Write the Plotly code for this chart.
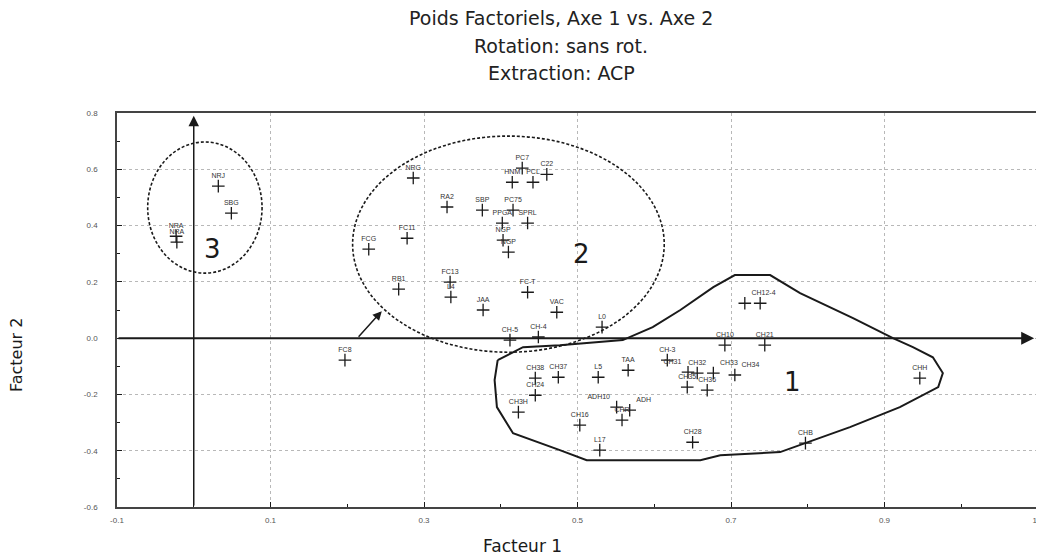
import plotly.graph_objects as go

# ---------------- data (factor loadings) ----------------
labels = ["NRJ", "SBG", "NRA", "NRA",
          "NRG", "RA2", "FC11", "FCG", "RB1", "FC13", "L4", "JAA", "FC-T", "VAC",
          "CH-5", "CH-4", "HNM", "PCL", "C22", "PC7", "SBP", "PC75", "PPGA", "SPRL",
          "NGP", "NGP",
          "L0", "CH10", "CH21", "CH12-4", "", "CH-3", "L5", "ADH10", "CHR", "CH16",
          "L17", "CH38", "CH37", "CH24", "CH3H", "CH31", "CH32", "CH33", "CH34",
          "CH35", "CH36", "CH28", "CHB", "CHH", "FC8", "TAA", "ADH"]
facteur1 = [0.032, 0.049, -0.023, -0.022,
            0.286, 0.330, 0.278, 0.228, 0.267, 0.334, 0.335, 0.377, 0.435, 0.473,
            0.412, 0.449, 0.415, 0.442, 0.460, 0.428, 0.376, 0.416, 0.402, 0.435,
            0.403, 0.410,
            0.532, 0.692, 0.744, 0.718, 0.738, 0.617, 0.527, 0.551, 0.558, 0.503,
            0.529, 0.445, 0.475, 0.445, 0.423, 0.644, 0.656, 0.677, 0.705,
            0.643, 0.669, 0.650, 0.797, 0.946, 0.197, 0.566, 0.568]
facteur2 = [0.540, 0.444, 0.362, 0.341,
            0.569, 0.466, 0.355, 0.316, 0.174, 0.199, 0.146, 0.100, 0.163, 0.092,
            -0.007, 0.004, 0.554, 0.554, 0.582, 0.604, 0.455, 0.455, 0.409, 0.409,
            0.348, 0.306,
            0.039, -0.025, -0.025, 0.124, 0.124, -0.078, -0.139, -0.245, -0.291, -0.309,
            -0.398, -0.142, -0.139, -0.203, -0.263, -0.121, -0.124, -0.124, -0.131,
            -0.174, -0.185, -0.370, -0.373, -0.142, -0.078, -0.114, -0.256]

# label placement for crowded spots
label_side = {"CH12-4": "top right", "ADH10": "top left", "ADH": "top right",
              "CH31": "top left", "CH33": "top right", "CH34": "top right"}

x_ticks = [-0.1, 0.1, 0.3, 0.5, 0.7, 0.9, 1.1]
y_ticks = [-0.6, -0.4, -0.2, 0.0, 0.2, 0.4, 0.6, 0.8]

# group outlines
ellipse3 = {"x0": -0.060, "x1": 0.089, "y0": 0.231, "y1": 0.697}
ellipse2 = {"x0": 0.207, "x1": 0.613, "y0": -0.050, "y1": 0.718}
group1_x = [0.396, 0.415, 0.429, 0.477, 0.559, 0.598, 0.634, 0.677, 0.705, 0.751,
            0.790, 0.859, 0.911, 0.937, 0.963, 0.976, 0.970, 0.920, 0.855, 0.764,
            0.686, 0.660, 0.512, 0.477, 0.416, 0.395, 0.392, 0.396]
group1_y = [-0.078, -0.050, -0.032, -0.025, -0.007, 0.039, 0.100, 0.181, 0.224, 0.224,
            0.160, 0.071, 0.0, -0.032, -0.068, -0.124, -0.174, -0.245, -0.316, -0.405,
            -0.416, -0.434, -0.434, -0.398, -0.338, -0.245, -0.149, -0.078]
group_names = ["3", "2", "1"]
group_name_x = [0.024, 0.505, 0.780]
group_name_y = [0.316, 0.299, -0.156]

FONT = "DejaVu Sans, Arial, sans-serif"
SMALL = "Liberation Sans, Arial, sans-serif"
INK = "#1a1a1a"

# layout geometry; page pixels are offset by the page's 8px body margin
OFF = 8
W, H = 1044, 557
PLOT_L, PLOT_R, PLOT_T, PLOT_B = 117, 1038, 113, 507   # page pixels
L = PLOT_L - OFF
T = PLOT_T - OFF
R = W - (PLOT_R - OFF)
B = H - (PLOT_B - OFF)
PW, PH = W - L - R, H - T - B

def px_x(p):
    return (p - OFF - L) / PW

def px_y(p):
    return (H - B - (p - OFF)) / PH

fig = go.Figure()

# group 1 outline (solid, free-form)
fig.add_trace(go.Scatter(x=group1_x, y=group1_y, mode="lines",
                         line=dict(color=INK, width=2), hoverinfo="skip",
                         showlegend=False))

# points
fig.add_trace(go.Scatter(
    x=facteur1, y=facteur2, mode="markers+text", text=labels,
    textposition=[label_side.get(lb, "top center") for lb in labels],
    textfont=dict(family=SMALL, size=7, color="#333333"),
    marker=dict(symbol="cross-thin", size=9, line=dict(color=INK, width=1.3)),
    showlegend=False))

shapes = []
for e in (ellipse3, ellipse2):
    shapes.append(dict(type="circle", xref="x", yref="y", **e,
                       line=dict(color=INK, width=1.6, dash="3px,2px")))

annotations = []
# axis lines with arrows
annotations.append(dict(x=1.095, y=0.0, ax=-0.1, ay=0.0, xref="x", yref="y",
                        axref="x", ayref="y", showarrow=True, arrowhead=2,
                        arrowsize=1.3, arrowwidth=2, arrowcolor=INK, text=""))
annotations.append(dict(x=0.0, y=0.79, ax=0.0, ay=-0.6, xref="x", yref="y",
                        axref="x", ayref="y", showarrow=True, arrowhead=2,
                        arrowsize=1.4, arrowwidth=1.5, arrowcolor=INK, text=""))
# pointer arrow to group 2
annotations.append(dict(x=0.245, y=0.096, ax=0.213, ay=0.0, xref="x", yref="y",
                        axref="x", ayref="y", showarrow=True, arrowhead=2,
                        arrowsize=1.2, arrowwidth=1.5, arrowcolor=INK, text=""))
# group numbers
for name, gx, gy in zip(group_names, group_name_x, group_name_y):
    annotations.append(dict(x=gx, y=gy, xref="x", yref="y", text=name,
                            showarrow=False,
                            font=dict(family=FONT, size=26, color=INK)))
# title lines
title_lines = ["Poids Factoriels, Axe 1 vs. Axe 2", "Rotation: sans rot.",
               "Extraction: ACP"]
title_px_y = [18, 46, 73]
for t, py in zip(title_lines, title_px_y):
    annotations.append(dict(x=px_x(561), y=px_y(py), xref="paper", yref="paper",
                            text=t, showarrow=False, yanchor="middle",
                            font=dict(family=FONT, size=19, color="#222222")))
# axis titles
annotations.append(dict(x=px_x(522), y=px_y(546), xref="paper", yref="paper",
                        text="Facteur 1", showarrow=False, yanchor="middle",
                        font=dict(family=FONT, size=17, color=INK)))
annotations.append(dict(x=px_x(16), y=px_y(355), xref="paper", yref="paper",
                        text="Facteur 2", showarrow=False, textangle=-90,
                        xanchor="center", yanchor="middle",
                        font=dict(family=FONT, size=16, color=INK)))

axis_common = dict(showline=True, linecolor="#444444", linewidth=1.6, mirror=True,
                   ticks="inside", ticklen=5, tickcolor=INK, tickwidth=1.2,
                   showgrid=True, gridcolor="#b8b8b8", griddash="dot", gridwidth=1,
                   zeroline=False, automargin=False,
                   tickfont=dict(family=SMALL, size=8, color="#555555"))

fig.update_layout(
    width=W, height=H,
    margin=dict(l=L, r=R, t=T, b=B),
    paper_bgcolor="white", plot_bgcolor="white",
    xaxis=dict(range=[-0.1, 1.1], tickvals=x_ticks,
               ticktext=[f"{v:.1f}" for v in x_ticks],
               minor=dict(dtick=0.1, tick0=-0.1, ticks="inside", ticklen=3,
                          tickcolor=INK, showgrid=False),
               ticklabelstandoff=5,
               **axis_common),
    yaxis=dict(range=[-0.6, 0.8], tickvals=y_ticks,
               ticktext=[f"{v:.1f}" for v in y_ticks],
               minor=dict(dtick=0.1, tick0=-0.6, ticks="inside", ticklen=3,
                          tickcolor=INK, showgrid=False),
               ticklabelstandoff=16,
               **axis_common),
    shapes=shapes, annotations=annotations,
)

fig.write_html("out.html")
